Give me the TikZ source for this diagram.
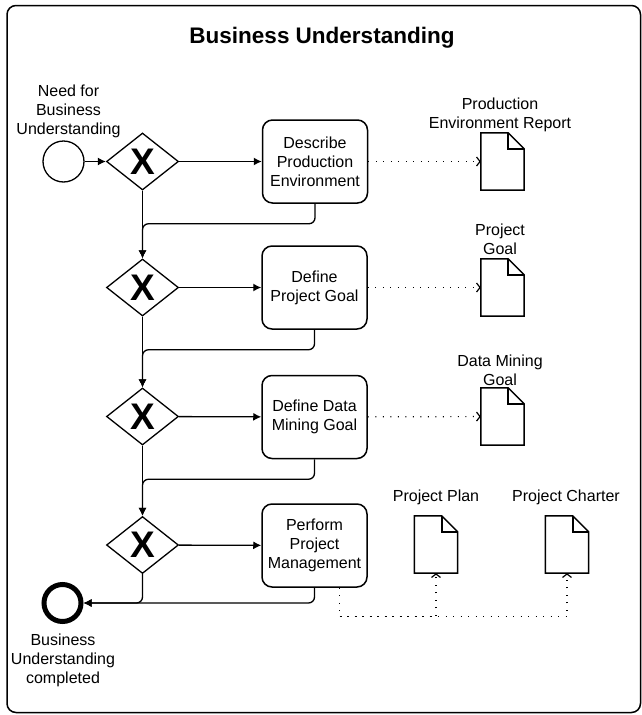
\documentclass[tikz,border=0pt]{standalone}
\usepackage{fontspec}
\setmainfont{Liberation Sans}
\usetikzlibrary{arrows.meta,shapes.geometric}

\tikzset{
  txt/.style={font=\fontsize{16}{19}\selectfont, align=center, inner sep=0pt},
  task/.style={draw, line width=1.5pt, rounded corners=10pt, minimum width=105pt,
               minimum height=83pt, inner sep=0pt, txt},
  gate/.style={draw, line width=1.3pt, diamond, minimum width=72pt, minimum height=57pt,
               inner sep=0pt, font=\fontsize{37}{40}\bfseries\selectfont},
  startev/.style={draw, line width=1.3pt, circle, minimum size=41pt, inner sep=0pt},
  endev/.style={draw, line width=5pt, circle, minimum size=37pt, inner sep=0pt},
  docnode/.style={minimum width=43pt, minimum height=57pt, inner sep=0pt},
  docline/.style={line width=1.5pt, line join=miter},
  foldline/.style={line width=2.2pt, line join=miter},
  flow/.style={line width=1.3pt, -{Latex[length=8pt,width=8pt]}, rounded corners=6pt},
  assoc/.style={line width=1.2pt, dash pattern=on 1.2pt off 6.3pt,
                -{Straight Barb[length=3.5pt,width=9pt,line width=1.2pt]}},
}

\begin{document}
\begin{tikzpicture}[x=1pt,y=-1pt]
  \useasboundingbox (0,0) rectangle (642,715);

  % pool frame and title
  \draw[line width=1.5pt, rounded corners=9pt] (7,5.5) rectangle (640.5,712.5);
  \node[anchor=base, inner sep=0pt, font=\fontsize{22.5}{27}\bfseries\selectfont]
    (title) at (322,43) {Business Understanding};

  % events
  \node[startev] (start) at (63.5,161.5) {};
  \node[txt, anchor=south] (startlbl) at (68.5,138.5) {Need for\\Business\\Understanding};
  \node[endev] (end) at (62.5,603) {};
  \node[txt, anchor=north] (endlbl) at (63,633.4) {Business\\Understanding\\completed};

  % gateways
  \node[gate] (g1) at (142.5,161.5) {X};
  \node[gate] (g2) at (142.5,287.5) {X};
  \node[gate] (g3) at (142.5,416.5) {X};
  \node[gate] (g4) at (142.5,545) {X};

  % tasks
  \node[task] (t1) at (315,161.5) {Describe\\Production\\Environment};
  \node[task] (t2) at (314.5,287.5) {Define\\Project Goal};
  \node[task] (t3) at (314.5,417) {Define Data\\Mining Goal};
  \node[task] (t4) at (314.5,545.5) {Perform\\Project\\Management};

  % data objects
  \node[docnode] (d1) at (502.5,161.5) {};
  \node[docnode] (d2) at (502.5,287.5) {};
  \node[docnode] (d3) at (502.5,416.5) {};
  \node[docnode] (plan) at (436,544.5) {};
  \node[docnode] (charter) at (567,544.5) {};
  \foreach \d in {d1,d2,d3,plan,charter}{
    \draw[docline] (\d.north west) -- ([xshift=-16pt]\d.north east)
      -- ([yshift=-16pt]\d.north east) -- (\d.south east) -- (\d.south west) -- cycle;
    \draw[foldline] ([xshift=-16pt]\d.north east) -- ([xshift=-16pt,yshift=-16pt]\d.north east)
      -- ([yshift=-16pt]\d.north east);
  }
  \node[txt, anchor=south] (d1lbl) at (500,132.4) {Production\\Environment Report};
  \node[txt, anchor=south] (d2lbl) at (500,255.3) {Project\\Goal};
  \node[txt, anchor=south] (d3lbl) at (500,386.3) {Data Mining\\Goal};
  \node[txt, anchor=south] (planlbl) at (436,505.3) {Project Plan};
  \node[txt, anchor=south] (charterlbl) at (566,505.3) {Project Charter};

  % sequence flows
  \draw[flow] (start) -- (g1);
  \draw[flow] (g1) -- (t1);
  \draw[flow] (g2) -- (t2);
  \draw[flow] (g3) -- (t3);
  \draw[flow] (g4) -- (t4);
  \draw[flow] (g1) -- (g2);
  \draw[flow] (g2) -- (g3);
  \draw[flow] (g3) -- (g4);
  \draw[flow] (t1.south) -- ++(0,20) -| (g2.north);
  \draw[flow] (t2.south) -- ++(0,20) -| (g3.north);
  \draw[flow] (t3.south) -- ++(0,20) -| (g4.north);
  \draw[flow] (g4.south) |- (end.east);
  \draw[flow] (t4.south) |- (end.east);

  % associations
  \draw[assoc] (t1) -- (d1);
  \draw[assoc] (t2) -- (d2);
  \draw[assoc] (t3) -- (d3);
  \coordinate (pmout) at ([xshift=25pt]t4.south);
  \draw[assoc] (pmout) -- ++(0,29) -| (charter.south);
  \draw[assoc] (pmout) ++(0,29) -| (plan.south);
\end{tikzpicture}
\end{document}
